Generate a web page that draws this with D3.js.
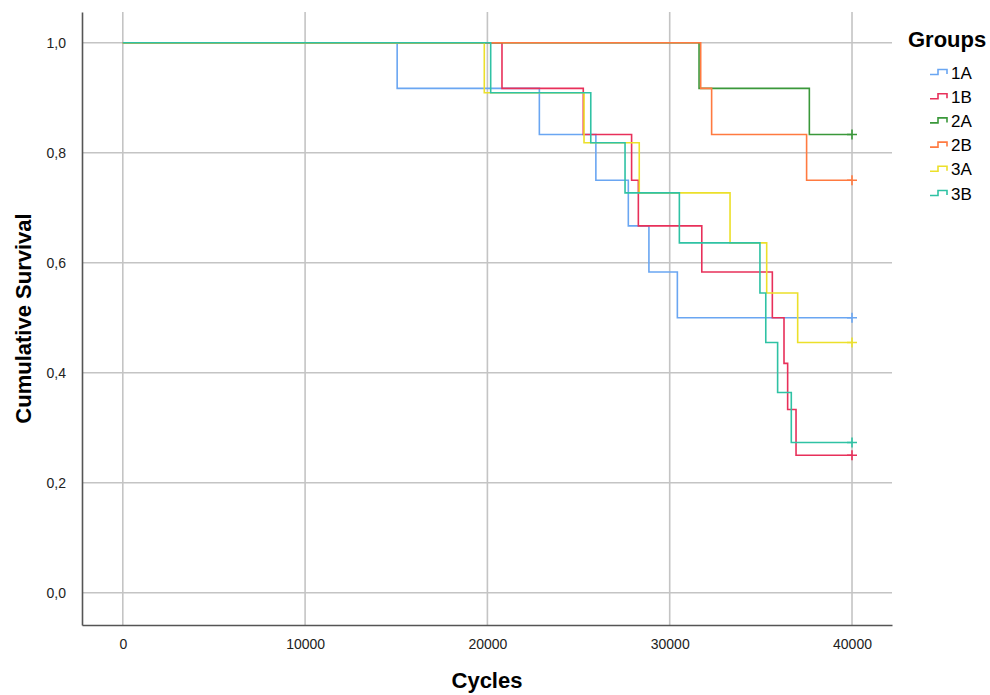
<!DOCTYPE html>
<html>
<head>
<meta charset="utf-8">
<script src="https://cdn.jsdelivr.net/npm/d3@7"></script>
<style>
  body { margin: 0; background: #fff; }
  svg { font-family: "Liberation Sans", Arial, sans-serif; }
</style>
</head>
<body>
<svg id="chart"></svg>
<script>
// Kaplan-Meier step data: drop times (cycles) and survival after each drop
let groups = ["1A", "1B", "2A", "2B", "3A", "3B"];
let colors = ["#6aa6f2", "#e8305a", "#3a983a", "#ff7a40", "#ece02a", "#2fc2a4"];

let times1A = [15050, 22850, 25950, 27730, 28860, 30420];
let surv1A  = [0.917, 0.833, 0.750, 0.667, 0.583, 0.500];

let times1B = [20800, 25260, 27910, 28280, 31760, 35630, 36270, 36470, 36930];
let surv1B  = [0.917, 0.833, 0.750, 0.667, 0.583, 0.500, 0.417, 0.333, 0.250];

let times2A = [31610, 37660];
let surv2A  = [0.917, 0.833];

let times2B = [31700, 32300, 37510];
let surv2B  = [0.917, 0.833, 0.750];

let times3A = [19830, 25300, 28330, 33310, 35320, 37020];
let surv3A  = [0.909, 0.818, 0.727, 0.636, 0.545, 0.455];

let times3B = [20180, 25670, 27550, 30530, 34950, 35270, 35920, 36670];
let surv3B  = [0.909, 0.818, 0.727, 0.636, 0.545, 0.455, 0.364, 0.273];

let censorTime = 40000;
let xTicks = [0, 10000, 20000, 30000, 40000];
let yTicks = [0, 0.2, 0.4, 0.6, 0.8, 1.0];

let allTimes = [times1A, times1B, times2A, times2B, times3A, times3B];
let allSurv = [surv1A, surv1B, surv2A, surv2B, surv3A, surv3B];

let width = 990, height = 695;
let mLeft = 82, mRight = 892, mTop = 12, mBottom = 625;

let svg = d3.select("#chart").attr("width", width).attr("height", height);

let x = d3.scaleLinear().domain([-2238, 42194]).range([mLeft, mRight]);
let y = d3.scaleLinear().domain([-0.0587, 1.0558]).range([mBottom, mTop]);

// grid
svg.append("g").selectAll("line")
  .data(yTicks).enter().append("line")
  .attr("x1", mLeft).attr("x2", mRight)
  .attr("y1", d => y(d)).attr("y2", d => y(d))
  .attr("stroke", "#c4c4c4").attr("stroke-width", 1.6);

svg.append("g").selectAll("line")
  .data(xTicks).enter().append("line")
  .attr("x1", d => x(d)).attr("x2", d => x(d))
  .attr("y1", mTop).attr("y2", mBottom)
  .attr("stroke", "#c4c4c4").attr("stroke-width", 1.6);

// axes
let xAxis = svg.append("g").attr("transform", "translate(0," + mBottom + ")")
  .call(d3.axisBottom(x).tickValues(xTicks).tickSize(0).tickPadding(14).tickFormat(d3.format("d")));
let yAxis = svg.append("g").attr("transform", "translate(" + mLeft + ",0)")
  .call(d3.axisLeft(y).tickValues(yTicks).tickSize(0).tickPadding(16).tickFormat(d => d3.format(".1f")(d).replace(".", ",")));

[xAxis, yAxis].forEach(a => {
  a.select(".domain").attr("stroke", "#555").attr("stroke-width", 1.6);
  a.selectAll("text").attr("font-size", 14).attr("fill", "#222")
    .attr("font-family", "'Liberation Sans', Arial, sans-serif");
});

// survival curves
let line = d3.line().x(d => x(d[0])).y(d => y(d[1])).curve(d3.curveStepAfter);

groups.forEach((g, i) => {
  let pts = [[0, 1]];
  allTimes[i].forEach((t, j) => pts.push([t, allSurv[i][j]]));
  pts.push([censorTime, allSurv[i][allSurv[i].length - 1]]);

  svg.append("path")
    .datum(pts)
    .attr("d", line)
    .attr("fill", "none")
    .attr("stroke", colors[i])
    .attr("stroke-width", 1.6);

  let cx = x(censorTime), cy = y(allSurv[i][allSurv[i].length - 1]);
  svg.append("path")
    .attr("d", "M" + (cx - 5) + "," + cy + "H" + (cx + 5) + "M" + cx + "," + (cy - 5) + "V" + (cy + 5))
    .attr("stroke", colors[i]).attr("stroke-width", 1.6).attr("fill", "none");
});

// titles
svg.append("text")
  .attr("x", (mLeft + mRight) / 2).attr("y", 688)
  .attr("text-anchor", "middle").attr("font-size", 22).attr("font-weight", "bold")
  .text("Cycles");

svg.append("text")
  .attr("transform", "translate(31," + ((mTop + mBottom) / 2) + ") rotate(-90)")
  .attr("text-anchor", "middle").attr("font-size", 22).attr("font-weight", "bold")
  .text("Cumulative Survival");

// legend
svg.append("text")
  .attr("x", 908).attr("y", 47)
  .attr("font-size", 22).attr("font-weight", "bold")
  .text("Groups");

let legend = svg.append("g").selectAll("g")
  .data(groups).enter().append("g")
  .attr("transform", (d, i) => "translate(930," + (72.5 + 24.2 * i) + ")");

legend.append("path")
  .attr("d", "M0,2H8V-3H17V1.5")
  .attr("fill", "none")
  .attr("stroke", (d, i) => colors[i])
  .attr("stroke-width", 1.6);

legend.append("text")
  .attr("x", 21).attr("y", 6)
  .attr("font-size", 17)
  .text(d => d);
</script>
</body>
</html>
